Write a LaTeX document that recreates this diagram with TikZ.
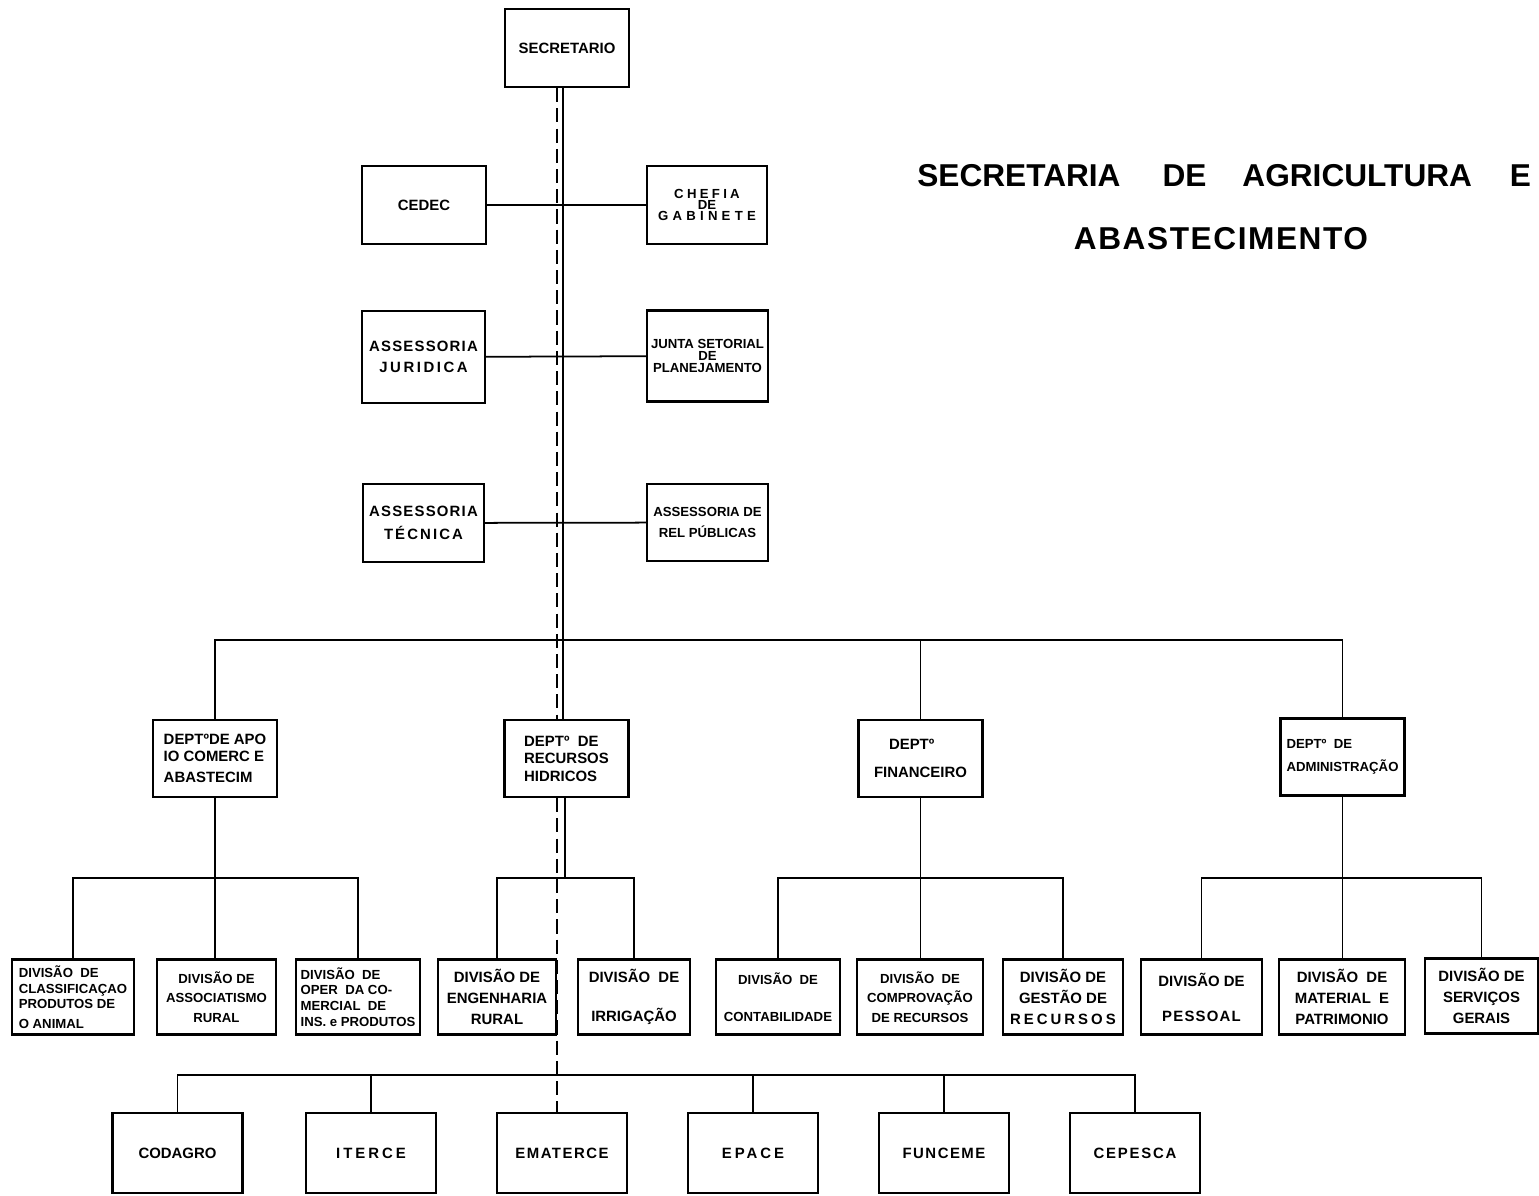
\documentclass[tikz,border=0pt]{standalone}
\usepackage{fontspec}
\setmainfont{Liberation Sans}
\usetikzlibrary{positioning,calc}
\newcommand{\spread}[2][20]{{\addfontfeature{LetterSpace=#1}#2}}

\begin{document}
\begin{tikzpicture}[x=0.02cm, y=-0.02cm,
            box/.style={draw, line width=1.4pt, inner sep=1pt, align=center,
                minimum width=2.48cm, minimum height=1.56cm,
                font=\bfseries\fontsize{8.5}{10}\selectfont}, % every box of the chart
            narrow/.style={font=\bfseries\fontsize{7.5}{9}\selectfont}, % long words
            dept/.style={box, minimum height=1.54cm, align=left},
            div/.style={box, minimum height=1.5cm},
            org/.style={box, minimum width=2.6cm, minimum height=1.6cm},
            link/.style={line width=1pt},
            dashline/.style={line width=1pt, dash pattern=on 8pt off 3.5pt},
            title/.style={font=\bfseries\fontsize{18}{22}\selectfont, inner sep=0pt},
        ]
        \useasboundingbox (0,0) rectangle (1539,1196);

        % title
        \node[title, anchor=west] (tit1) at (917,176) {SECRETARIA\hspace{0.84cm}DE\hspace{0.72cm}AGRICULTURA\hspace{0.76cm}E};
        \node[title] (tit2) at (1221,239) {\spread[5]{ABASTECIMENTO}};

        % top
        \node[box] (sec) at (567,48) {SECRETARIO};
        \node[box] (cedec) at (424,205) {CEDEC};
        \node[box, narrow, minimum width=2.4cm] (chefia) at (707,205) {\spread[25]{CHEFIA}\\[-3pt]DE\\[-3pt]\spread[32]{GABINETE}};
        \node[box, minimum width=2.46cm, minimum height=1.84cm] (asjur) at (423.5,357) {\spread[8]{ASSESSORIA}\\[2pt]\spread[17]{JURIDICA}};
        \node[box, narrow, minimum width=2.42cm, minimum height=1.82cm] (junta) at (707.5,356) {JUNTA SETORIAL\\[-2pt]DE\\[-2pt]PLANEJAMENTO};
        \node[box, minimum width=2.42cm] (astec) at (423.5,523) {\spread[8]{ASSESSORIA}\\[3pt]\spread[14]{TÉCNICA}};
        \node[box, narrow, minimum width=2.42cm, minimum height=1.54cm] (asrel) at (707.5,522.5) {ASSESSORIA DE\\[3pt]REL PÚBLICAS};

        % departments
        \node[dept] (dapoio) at (215,758.5) {DEPTºDE APO\\IO COMERC E\\[2pt]ABASTECIM};
        \node[dept] (drh) at (566.5,758.5) {DEPTº\ \ DE\\RECURSOS\\HIDRICOS};
        \node[dept] (dfin) at (920.5,758.5) {\hspace{0.3cm}DEPTº\\[6pt]FINANCEIRO};
        \node[dept, narrow] (dadm) at (1342.5,757) {DEPTº\ \ DE\\[4pt]ADMINISTRAÇÃO};

        % divisions
        \node[div, narrow, minimum width=2.44cm, align=left] (dcla) at (73,997) {DIVISÃO\ \ DE\\CLASSIFICAÇAO\\PRODUTOS DE\\[2pt]O ANIMAL};
        \node[div, narrow, minimum width=2.38cm] (dass) at (216.5,997) {DIVISÃO DE\\[2pt]ASSOCIATISMO\\[2pt]RURAL};
        \node[div, narrow, align=left] (dope) at (358,997) {DIVISÃO\ \ DE\\OPER\ \ DA CO-\\MERCIAL\ \ DE\\INS. e PRODUTOS};
        \node[div, minimum width=2.36cm] (deng) at (497,997) {DIVISÃO DE\\[2pt]ENGENHARIA\\[2pt]RURAL};
        \node[div, minimum width=2.24cm] (dirr) at (634,997) {DIVISÃO\ \ DE\\[12pt]IRRIGAÇÃO};
        \node[div, narrow] (dcon) at (778,997) {DIVISÃO\ \ DE\\[12pt]CONTABILIDADE};
        \node[div, narrow, minimum width=2.52cm] (dcom) at (920,997) {DIVISÃO\ \ DE\\[2pt]COMPROVAÇÃO\\[2pt]DE RECURSOS};
        \node[div, minimum width=2.4cm] (dges) at (1063,997) {DIVISÃO DE\\[2pt]GESTÃO DE\\[2pt]\spread{RECURSOS}};
        \node[div, minimum width=2.42cm] (dpes) at (1201.5,997) {DIVISÃO DE\\[10pt]\spread[8]{PESSOAL}};
        \node[div, minimum width=2.52cm] (dmat) at (1342,997) {DIVISÃO\ \ DE\\[2pt]MATERIAL\ \ E\\[2pt]PATRIMONIO};
        \node[div, minimum width=2.26cm] (dser) at (1481.5,996) {DIVISÃO DE\\[2pt]SERVIÇOS\\[2pt]GERAIS};

        % bottom row
        \node[org] (cod) at (177.5,1153) {CODAGRO};
        \node[org] (iter) at (371,1153) {\spread{ITERCE}};
        \node[org] (ema) at (562,1153) {\spread[10]{EMATERCE}};
        \node[org] (epa) at (753,1153) {\spread{EPACE}};
        \node[org] (fun) at (944,1153) {\spread[10]{FUNCEME}};
        \node[org] (cep) at (1135,1153) {\spread[12]{CEPESCA}};

        \coordinate (tr) at (563,640);
        \coordinate (dl) at (557,0);
        \coordinate (rt) at (565,878);
        \coordinate (divbus) at (0,878);
        \coordinate (botbus) at (0,1075);

        % lines
        \draw[link] (sec.south -| tr) -- (drh.north -| tr);
        \draw[link] (dapoio.north) |- (tr) -| (dadm.north);
        \draw[link] (tr) -| (dfin.north);
        \draw[link] (cedec) -- (chefia);
        \draw[link] (asjur) -- (junta);
        \draw[link] (astec) -- (asrel);
        \draw[dashline] (sec.south -| dl) -- (drh.north -| dl)
            (drh.south -| dl) -- (ema.north -| dl);

        \draw[link] (dapoio.south) -- (dapoio.south |- dass.north);
        \draw[link] (dcla.north) |- (dapoio.south |- divbus) -| (dope.north);
        \draw[link] (drh.south -| rt) -- (rt);
        \draw[link] (deng.north) |- (rt) -| (dirr.north);
        \draw[link] (dfin.south) -- (dfin.south |- dcom.north);
        \draw[link] (dcon.north) |- (dfin.south |- divbus) -| (dges.north);
        \draw[link] (dadm.south) -- (dadm.south |- dmat.north);
        \draw[link] (dpes.north) |- (dadm.south |- divbus) -| (dser.north);

        \draw[link] (cod.north) |- (cep.north |- botbus) -- (cep.north);
        \foreach \n in {iter,epa,fun}
            \draw[link] (\n.north) -- (\n.north |- botbus);
    \end{tikzpicture}
\end{document}
